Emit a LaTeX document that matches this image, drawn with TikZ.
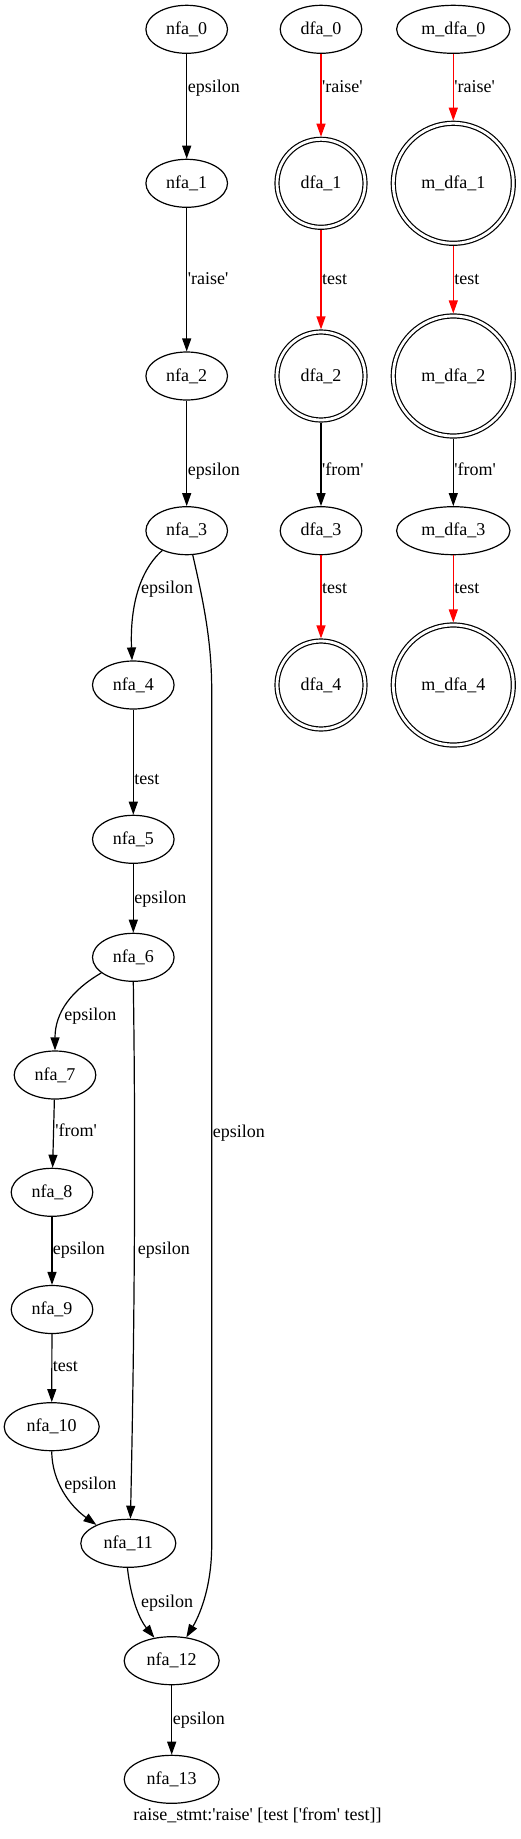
\documentclass[tikz,border=0pt]{standalone}
\usepackage{fontspec}
\setmainfont{Liberation Serif}
\usetikzlibrary{arrows.meta,shapes.geometric}
\newcommand{\sq}{\textquotesingle}
\begin{document}
\begin{tikzpicture}[x=1pt,y=-1pt,
  every node/.style={font=\fontsize{18}{22}\selectfont},
  st/.style={ellipse, draw, line width=1.2pt, minimum width=81.6pt, minimum height=48pt, inner sep=0pt},
  stw/.style={st, minimum width=95pt},
  stm/.style={st, minimum width=113.4pt},
  acc/.style={circle, draw, line width=1.2pt, double, double distance=2.8pt, minimum size=88pt, inner sep=0pt, outer sep=2.6pt},
  accm/.style={acc, minimum size=120pt},
  arr/.style={draw, line width=1.2pt, -{Triangle[length=13pt,width=9pt]}},
  hot/.style={arr, red},
  lbl/.style={anchor=west, inner sep=0.5pt, text height=12pt, text depth=4pt}
]
\useasboundingbox (0,0) rectangle (520,1839);

% NFA
\node[st] (nfa_0) at (186.7,29.3) {nfa\_0};
\node[st] (nfa_1) at (186.7,183.3) {nfa\_1};
\node[st] (nfa_2) at (186.7,376) {nfa\_2};
\node[st] (nfa_3) at (186.7,530.7) {nfa\_3};
\node[st] (nfa_4) at (133.3,685) {nfa\_4};
\node[st] (nfa_5) at (133.3,839.3) {nfa\_5};
\node[st] (nfa_6) at (133.3,957.3) {nfa\_6};
\node[st] (nfa_7) at (55,1075) {nfa\_7};
\node[st] (nfa_8) at (52,1192.3) {nfa\_8};
\node[st] (nfa_9) at (52,1309.5) {nfa\_9};
\node[stw] (nfa_10) at (51.7,1426.7) {nfa\_10};
\node[stw] (nfa_11) at (128.3,1543.3) {nfa\_11};
\node[stw] (nfa_12) at (171.7,1660.7) {nfa\_12};
\node[stw] (nfa_13) at (171.7,1779.3) {nfa\_13};

% DFA
\node[st] (dfa_0) at (321,29.3) {dfa\_0};
\node[acc] (dfa_1) at (321,183.3) {dfa\_1};
\node[acc] (dfa_2) at (321,376) {dfa\_2};
\node[st] (dfa_3) at (321,530.7) {dfa\_3};
\node[acc] (dfa_4) at (321,685) {dfa\_4};

% minimized DFA
\node[stm] (m_dfa_0) at (453.3,29.3) {m\_dfa\_0};
\node[accm] (m_dfa_1) at (453.3,183.3) {m\_dfa\_1};
\node[accm] (m_dfa_2) at (453.3,376) {m\_dfa\_2};
\node[stm] (m_dfa_3) at (453.3,530.7) {m\_dfa\_3};
\node[accm] (m_dfa_4) at (453.3,685) {m\_dfa\_4};

\node (caption) at (257.5,1815) {raise\_stmt:\sq raise\sq{} [test [\sq from\sq{} test]]};

% helper coordinates for the long bypass edge
\coordinate (b1) at (211.7,690);
\coordinate (b2) at (211.7,1545);

% NFA edges
\draw[arr] (nfa_0) -- (nfa_1) node[lbl] at (186.7,88) {epsilon};
\draw[arr] (nfa_1) -- (nfa_2) node[lbl] at (186.7,280) {\sq raise\sq};
\draw[arr] (nfa_2) -- (nfa_3) node[lbl] at (186.7,471.7) {epsilon};
\draw[arr] (nfa_3.219) .. controls (138,572) and (130,610) .. (nfa_4.93) node[lbl] at (140,589) {epsilon};
\draw[arr] (nfa_3.284) .. controls (203,600) and (211.7,640) .. (b1) -- (b2) .. controls (211.7,1590) and (198,1618) .. (nfa_12.58) node[lbl] at (211.7,1133.3) {epsilon};
\draw[arr] (nfa_4) -- (nfa_5) node[lbl] at (133.3,780.7) {test};
\draw[arr] (nfa_5) -- (nfa_6) node[lbl] at (133.3,899.3) {epsilon};
\draw[arr] (nfa_6.206) .. controls (72,990) and (55,1012) .. (nfa_7.north) node[lbl] at (63.3,1016) {epsilon};
\draw[arr] (nfa_6.south) .. controls (136.5,1200) and (133,1400) .. (nfa_11.85) node[lbl] at (136.7,1250.7) {epsilon};
\draw[arr] (nfa_7) -- (nfa_8) node[lbl] at (54.3,1132.7) {\sq from\sq};
\draw[arr] (nfa_8) -- (nfa_9) node[lbl] at (51.7,1250.7) {epsilon};
\draw[arr] (nfa_9) -- (nfa_10) node[lbl] at (51.7,1367.7) {test};
\draw[arr] (nfa_10.south) .. controls (52,1482) and (70,1506) .. (nfa_11.150) node[lbl] at (63.3,1485) {epsilon};
\draw[arr] (nfa_11.268) .. controls (131,1600) and (140,1620) .. (nfa_12.127) node[lbl] at (140,1603.3) {epsilon};
\draw[arr] (nfa_12) -- (nfa_13) node[lbl] at (171.7,1720) {epsilon};

% DFA edges
\draw[hot] (dfa_0) -- (dfa_1) node[lbl, black] at (321,88) {\sq raise\sq};
\draw[hot] (dfa_1) -- (dfa_2) node[lbl, black] at (321,280) {test};
\draw[arr] (dfa_2) -- (dfa_3) node[lbl] at (321,471.7) {\sq from\sq};
\draw[hot] (dfa_3) -- (dfa_4) node[lbl, black] at (321,589) {test};

% minimized DFA edges
\draw[hot] (m_dfa_0) -- (m_dfa_1) node[lbl, black] at (453.3,88) {\sq raise\sq};
\draw[hot] (m_dfa_1) -- (m_dfa_2) node[lbl, black] at (453.3,280) {test};
\draw[arr] (m_dfa_2) -- (m_dfa_3) node[lbl] at (453.3,471.7) {\sq from\sq};
\draw[hot] (m_dfa_3) -- (m_dfa_4) node[lbl, black] at (453.3,589) {test};
\end{tikzpicture}
\end{document}
